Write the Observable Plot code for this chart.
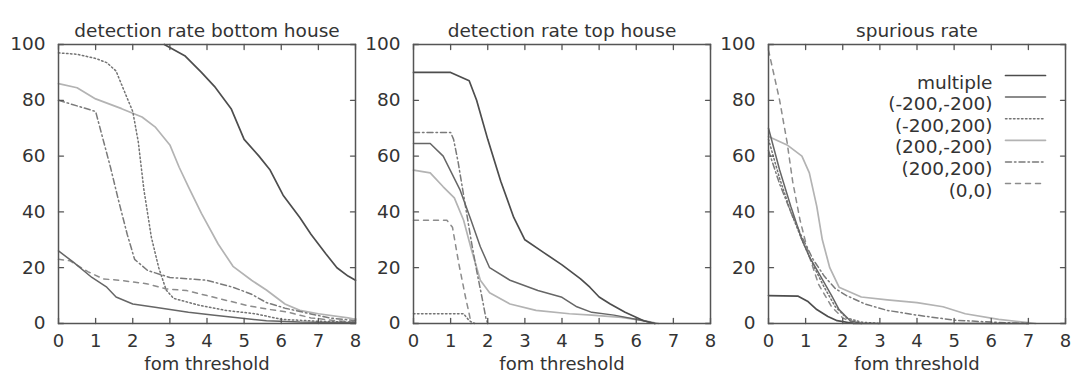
<!DOCTYPE html>
<html><head><meta charset="utf-8">
<script src="https://cdn.jsdelivr.net/npm/d3@7"></script>
<script src="https://cdn.jsdelivr.net/npm/@observablehq/plot@0.6"></script>
<style>
body{margin:0;background:#fff;}
#wrap{position:relative;width:1073px;height:378px;overflow:hidden;background:#fff;}
.panel{position:absolute;top:0;}
.panel svg{background:transparent !important;}
</style></head><body><div id="wrap"></div>
<script>
// ---- labels and ticks ----
const xTicks = [0,1,2,3,4,5,6,7,8];
const yTicks = [0,20,40,60,80,100];
const seriesNames = ["multiple","(-200,-200)","(-200,200)","(200,-200)","(200,200)","(0,0)"];
const panelTitles = ["detection rate bottom house","detection rate top house","spurious rate"];
const xLabel = "fom threshold";

// ---- panel 1: detection rate bottom house  [fom threshold, rate] ----
const bottomMultiple = [[2.85,100],[3.4,96],[3.85,90],[4.2,85],[4.65,77],[5.0,66],[5.4,60],[5.7,55],[6.05,46],[6.5,38],[6.8,32],[7.2,25],[7.5,20],[7.8,17],[8,15.5]];
const bottomM200M200 = [[0,26],[0.4,22],[0.9,16.5],[1.3,13],[1.55,9.5],[2,7],[2.6,5.8],[3.5,4],[4.2,3],[4.7,2.2],[5.6,1],[6.5,0.5],[8,0.3]];
const bottomM200P200 = [[0,97],[0.5,96.5],[1,95],[1.3,93.5],[1.55,90.5],[1.75,84],[2.0,76],[2.15,65],[2.3,48],[2.5,31],[2.7,20],[2.9,12],[3.1,9],[3.8,6.5],[4.5,4.7],[5.3,3.5],[6,1.5],[7,0.8],[8,0.5]];
const bottomP200M200 = [[0,86],[0.5,84.5],[1,80.5],[1.7,77],[2.25,74],[2.6,70.5],[3,64],[3.25,56],[3.5,49],[3.85,39.5],[4.3,28.5],[4.7,20.5],[5.2,15.5],[5.6,12],[6.1,7],[6.5,4.7],[7,3.5],[7.8,2],[8,1.5]];
const bottomP200P200 = [[0,80],[0.5,78],[1.0,76],[1.2,66],[1.4,56],[1.6,45],[1.85,32],[2.05,23],[2.4,19],[3,16.5],[4,15.5],[4.7,13],[5.2,10.5],[5.6,7.5],[6.1,5.5],[6.6,4],[7.3,2],[8,1]];
const bottomZero = [[0,23],[0.3,22.5],[0.8,18.5],[1.2,16],[1.7,15.4],[2.4,14.2],[2.9,12.4],[3.45,11.8],[4,10],[4.55,8.2],[5.1,6.4],[5.6,5.2],[6.2,4],[6.8,2],[7.5,1],[8,0.5]];

// ---- panel 2: detection rate top house ----
const topMultiple = [[0,90],[1,90],[1.5,87],[1.7,80],[2,66],[2.35,51],[2.7,38],[3,30],[3.5,25.5],[4,21],[4.5,16],[4.75,13],[5,9.5],[5.3,7],[5.7,4],[6.2,1],[6.5,0]];
const topM200M200 = [[0,64.5],[0.45,64.5],[0.8,60],[1.25,48],[1.55,37],[1.8,27.5],[2.05,20],[2.6,15.5],[3.35,11.8],[4,9.4],[4.4,6],[4.8,4],[5.4,3],[6.2,1],[6.5,0]];
const topM200P200 = [[0,3.5],[1.35,3.5],[1.5,1],[1.65,0]];
const topP200M200 = [[0,55],[0.45,54],[0.8,49],[1.1,45],[1.35,37],[1.55,27],[1.8,15.5],[2.05,11],[2.6,7],[3.3,4.7],[4.2,3.5],[4.8,3],[5.6,2.2],[6.2,1],[6.6,0]];
const topP200P200 = [[0,68.5],[1.0,68.5],[1.08,66],[1.2,58],[1.3,50],[1.4,42],[1.55,30],[1.7,19],[1.85,9],[1.95,2],[2.0,0]];
const topZero = [[0,37],[0.9,37],[1.05,34.5],[1.22,21.5],[1.4,9.5],[1.5,3.5],[1.55,0]];

// ---- panel 3: spurious rate ----
const spurMultiple = [[0,10],[0.8,9.8],[1.05,8],[1.3,5],[1.6,2.5],[1.85,1],[2.3,0],[7,0]];
const spurM200M200 = [[0,70],[0.3,55],[0.6,42],[0.9,30],[1.1,24],[1.4,17],[1.7,10],[1.9,5],[2.2,1],[2.5,0]];
const spurM200P200 = [[0,66],[0.3,52],[0.6,40],[0.9,30],[1.2,21],[1.5,13],[1.8,6],[2.1,2],[2.5,0.5],[3,0]];
const spurP200M200 = [[0,67],[0.5,64],[0.9,60],[1.1,54],[1.3,42],[1.45,30],[1.65,20],[1.9,13],[2.5,9.5],[3.2,8.5],[4,7.5],[4.7,6],[5.3,3.5],[6.2,1.5],[7,0.3],[7.2,0]];
const spurP200P200 = [[0,62],[0.3,50],[0.6,40],[0.9,31],[1.2,23],[1.5,17],[1.8,12.5],[2.1,10],[2.6,7],[3.2,4.7],[4,3],[5,1.2],[6,0.5],[7,0]];
const spurZero = [[0,98],[0.3,80],[0.5,65],[0.65,51],[0.85,37],[1.1,24],[1.35,14],[1.7,6],[2,2],[2.3,0]];

const panels = [
  [bottomMultiple,bottomM200M200,bottomM200P200,bottomP200M200,bottomP200P200,bottomZero],
  [topMultiple,topM200M200,topM200P200,topP200M200,topP200P200,topZero],
  [spurMultiple,spurM200M200,spurM200P200,spurP200M200,spurP200P200,spurZero]
];

const lineStyles = [
  {stroke:"#4d4d4d", strokeWidth:1.7, dash:null},
  {stroke:"#666666", strokeWidth:1.5, dash:null},
  {stroke:"#737373", strokeWidth:1.5, dash:"1.5,2.5"},
  {stroke:"#b3b3b3", strokeWidth:1.7, dash:null},
  {stroke:"#7a7a7a", strokeWidth:1.5, dash:"6,3,1.5,3"},
  {stroke:"#8c8c8c", strokeWidth:1.5, dash:"5,5"}
];
const drawOrder = [3,5,4,2,1,0];
const axisColor = "#555";
const textColor = "#333";

const tickShape = {draw(ctx, l) { ctx.moveTo(0, 0); ctx.lineTo(0, -l); }};
const lineShape = {draw(ctx, l) { ctx.moveTo(0, 0); ctx.lineTo(0, -l); }};

const wrap = document.getElementById("wrap");
const lefts = [0, 355, 710];

panels.forEach((series, p) => {
  const marks = [];
  drawOrder.forEach(i => {
    const st = lineStyles[i];
    marks.push(Plot.line(series[i], {x: d => d[0], y: d => d[1], stroke: st.stroke, strokeWidth: st.strokeWidth, strokeDasharray: st.dash, curve: "linear"}));
  });
  marks.push(Plot.frame({stroke: axisColor, strokeWidth: 1.5}));
  // inward ticks on all four sides
  marks.push(Plot.vector(xTicks, {x: d => d, y: () => 0, length: 5, rotate: 0, anchor: "start", shape: tickShape, stroke: axisColor, strokeWidth: 1.3}));
  marks.push(Plot.vector(xTicks, {x: d => d, y: () => 100, length: 5, rotate: 180, anchor: "start", shape: tickShape, stroke: axisColor, strokeWidth: 1.3}));
  marks.push(Plot.vector(yTicks, {x: () => 0, y: d => d, length: 5, rotate: 90, anchor: "start", shape: tickShape, stroke: axisColor, strokeWidth: 1.3}));
  marks.push(Plot.vector(yTicks, {x: () => 8, y: d => d, length: 5, rotate: -90, anchor: "start", shape: tickShape, stroke: axisColor, strokeWidth: 1.3}));
  marks.push(Plot.axisX(xTicks, {tickSize: 0, tickPadding: 11, label: null, fill: textColor, fontSize: 18}));
  marks.push(Plot.axisY(yTicks, {tickSize: 0, tickPadding: 13, label: null, fill: textColor}));
  marks.push(Plot.text([panelTitles[p]], {text: d => d, frameAnchor: "top", dy: -21, fill: textColor}));
  marks.push(Plot.text([xLabel], {text: d => d, frameAnchor: "bottom", dy: 46, fill: textColor, fontSize: 18}));
  if (p === 2) {
    seriesNames.forEach((name, i) => {
      const st = lineStyles[i];
      marks.push(Plot.text([name], {text: d => d, frameAnchor: "top-right", textAnchor: "end", dx: -73, dy: 31 + i * 21.6, fill: textColor}));
      marks.push(Plot.vector([name], {frameAnchor: "top-right", dx: -60, dy: 31 + i * 21.6, length: 40, rotate: 90, anchor: "start", shape: lineShape, stroke: st.stroke, strokeWidth: st.strokeWidth, strokeDasharray: st.dash}));
    });
  }
  const chart = Plot.plot({
    width: 360, height: 378,
    marginLeft: 58, marginRight: 5, marginTop: 44, marginBottom: 55,
    x: {domain: [0, 8]},
    y: {domain: [0, 100]},
    style: {fontFamily: "'DejaVu Sans', sans-serif", fontSize: "18.5px", color: textColor, background: "transparent", overflow: "visible"},
    marks
  });
  const div = document.createElement("div");
  div.className = "panel";
  div.style.left = lefts[p] + "px";
  div.appendChild(chart);
  wrap.appendChild(div);
});
</script>
</body></html>
